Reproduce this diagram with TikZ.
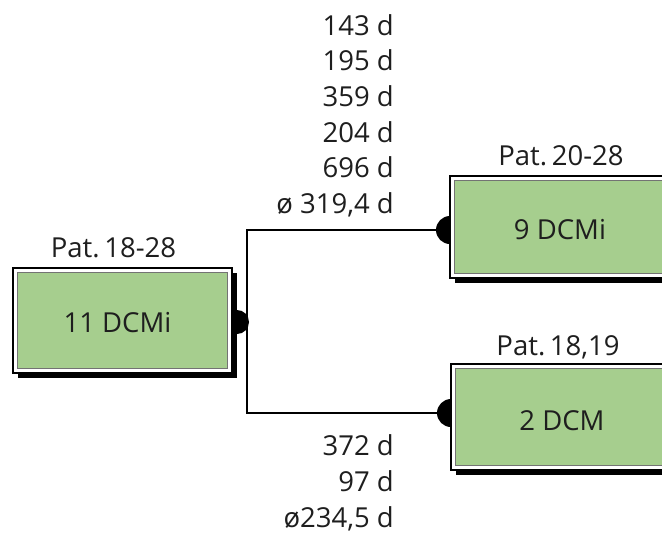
\documentclass[tikz,border=0pt]{standalone}
\usepackage{fontspec}
\setmainfont{Open Sans}
\usetikzlibrary{shadows}
\definecolor{boxgreen}{RGB}{166,206,142}
\definecolor{inkgray}{RGB}{30,30,30}
\tikzset{
  boxframe/.style={draw=black, line width=1.4pt, fill=white, inner sep=0pt,
    drop shadow={shadow xshift=5pt, shadow yshift=-5pt, fill=black, opacity=1},
    path picture={\fill[boxgreen, draw=black!55, line width=0.6pt]
      ([shift={(4.5pt,-4.5pt)}]path picture bounding box.north west) rectangle
      ([shift={(-4.5pt,4.5pt)}]path picture bounding box.south east);}},
  conn/.style={draw=black, line width=1.8pt},
  knob/.style={fill=black},
  txt/.style={inner sep=0pt, text=inkgray, font=\fontsize{27.5}{32}\selectfont},
  lbl/.style={txt, anchor=base},
  days/.style={txt, anchor=base east},
}
\begin{document}
\begin{tikzpicture}[x=1pt, y=-1pt]
\useasboundingbox (0,0) rectangle (662,533);

% tree connector and its knobs (boxes are drawn on top)
\coordinate (kL) at (237,322);
\coordinate (kT) at (450,230);
\coordinate (kB) at (451,413);
\coordinate (trunk) at (247,322);
\draw[conn] (kT) -- (kT -| trunk) -- (kB -| trunk) -- (kB);
\fill[knob] (kL) circle (12pt);
\fill[knob] (kT) circle (14pt);
\fill[knob] (kB) circle (14pt);

% boxes
\node[boxframe, minimum width=219pt, minimum height=105pt] (L) at (122.5,320.5) {};
\node[boxframe, minimum width=240pt, minimum height=102pt] (T) at (570,227) {};
\node[boxframe, minimum width=240pt, minimum height=106pt] (B) at (571,417) {};

% box texts
\node[lbl] (Lt) at (117.5,332) {11 DCMi};
\node[lbl] (Tt) at (560,239) {9 DCMi};
\node[lbl] (Bt) at (562,430) {2 DCM};

% patient labels
\node[lbl] (Lp) at (113.5,257) {Pat.\,18-28};
\node[lbl] (Tp) at (561,165) {Pat.\,20-28};
\node[lbl] (Bp) at (558,355) {Pat.\,18,19};

% durations, upper branch
\node[days] (d1) at (394,35) {143 d};
\node[days] (d2) at (394,70.6) {195 d};
\node[days] (d3) at (394,106) {359 d};
\node[days] (d4) at (394,142) {204 d};
\node[days] (d5) at (394,177.5) {696 d};
\node[days] (d6) at (394,213) {ø 319,4 d};

% durations, lower branch
\node[days] (e1) at (394,455) {372 d};
\node[days] (e2) at (394,491) {97 d};
\node[days] (e3) at (394,527) {ø234,5 d};
\end{tikzpicture}
\end{document}
